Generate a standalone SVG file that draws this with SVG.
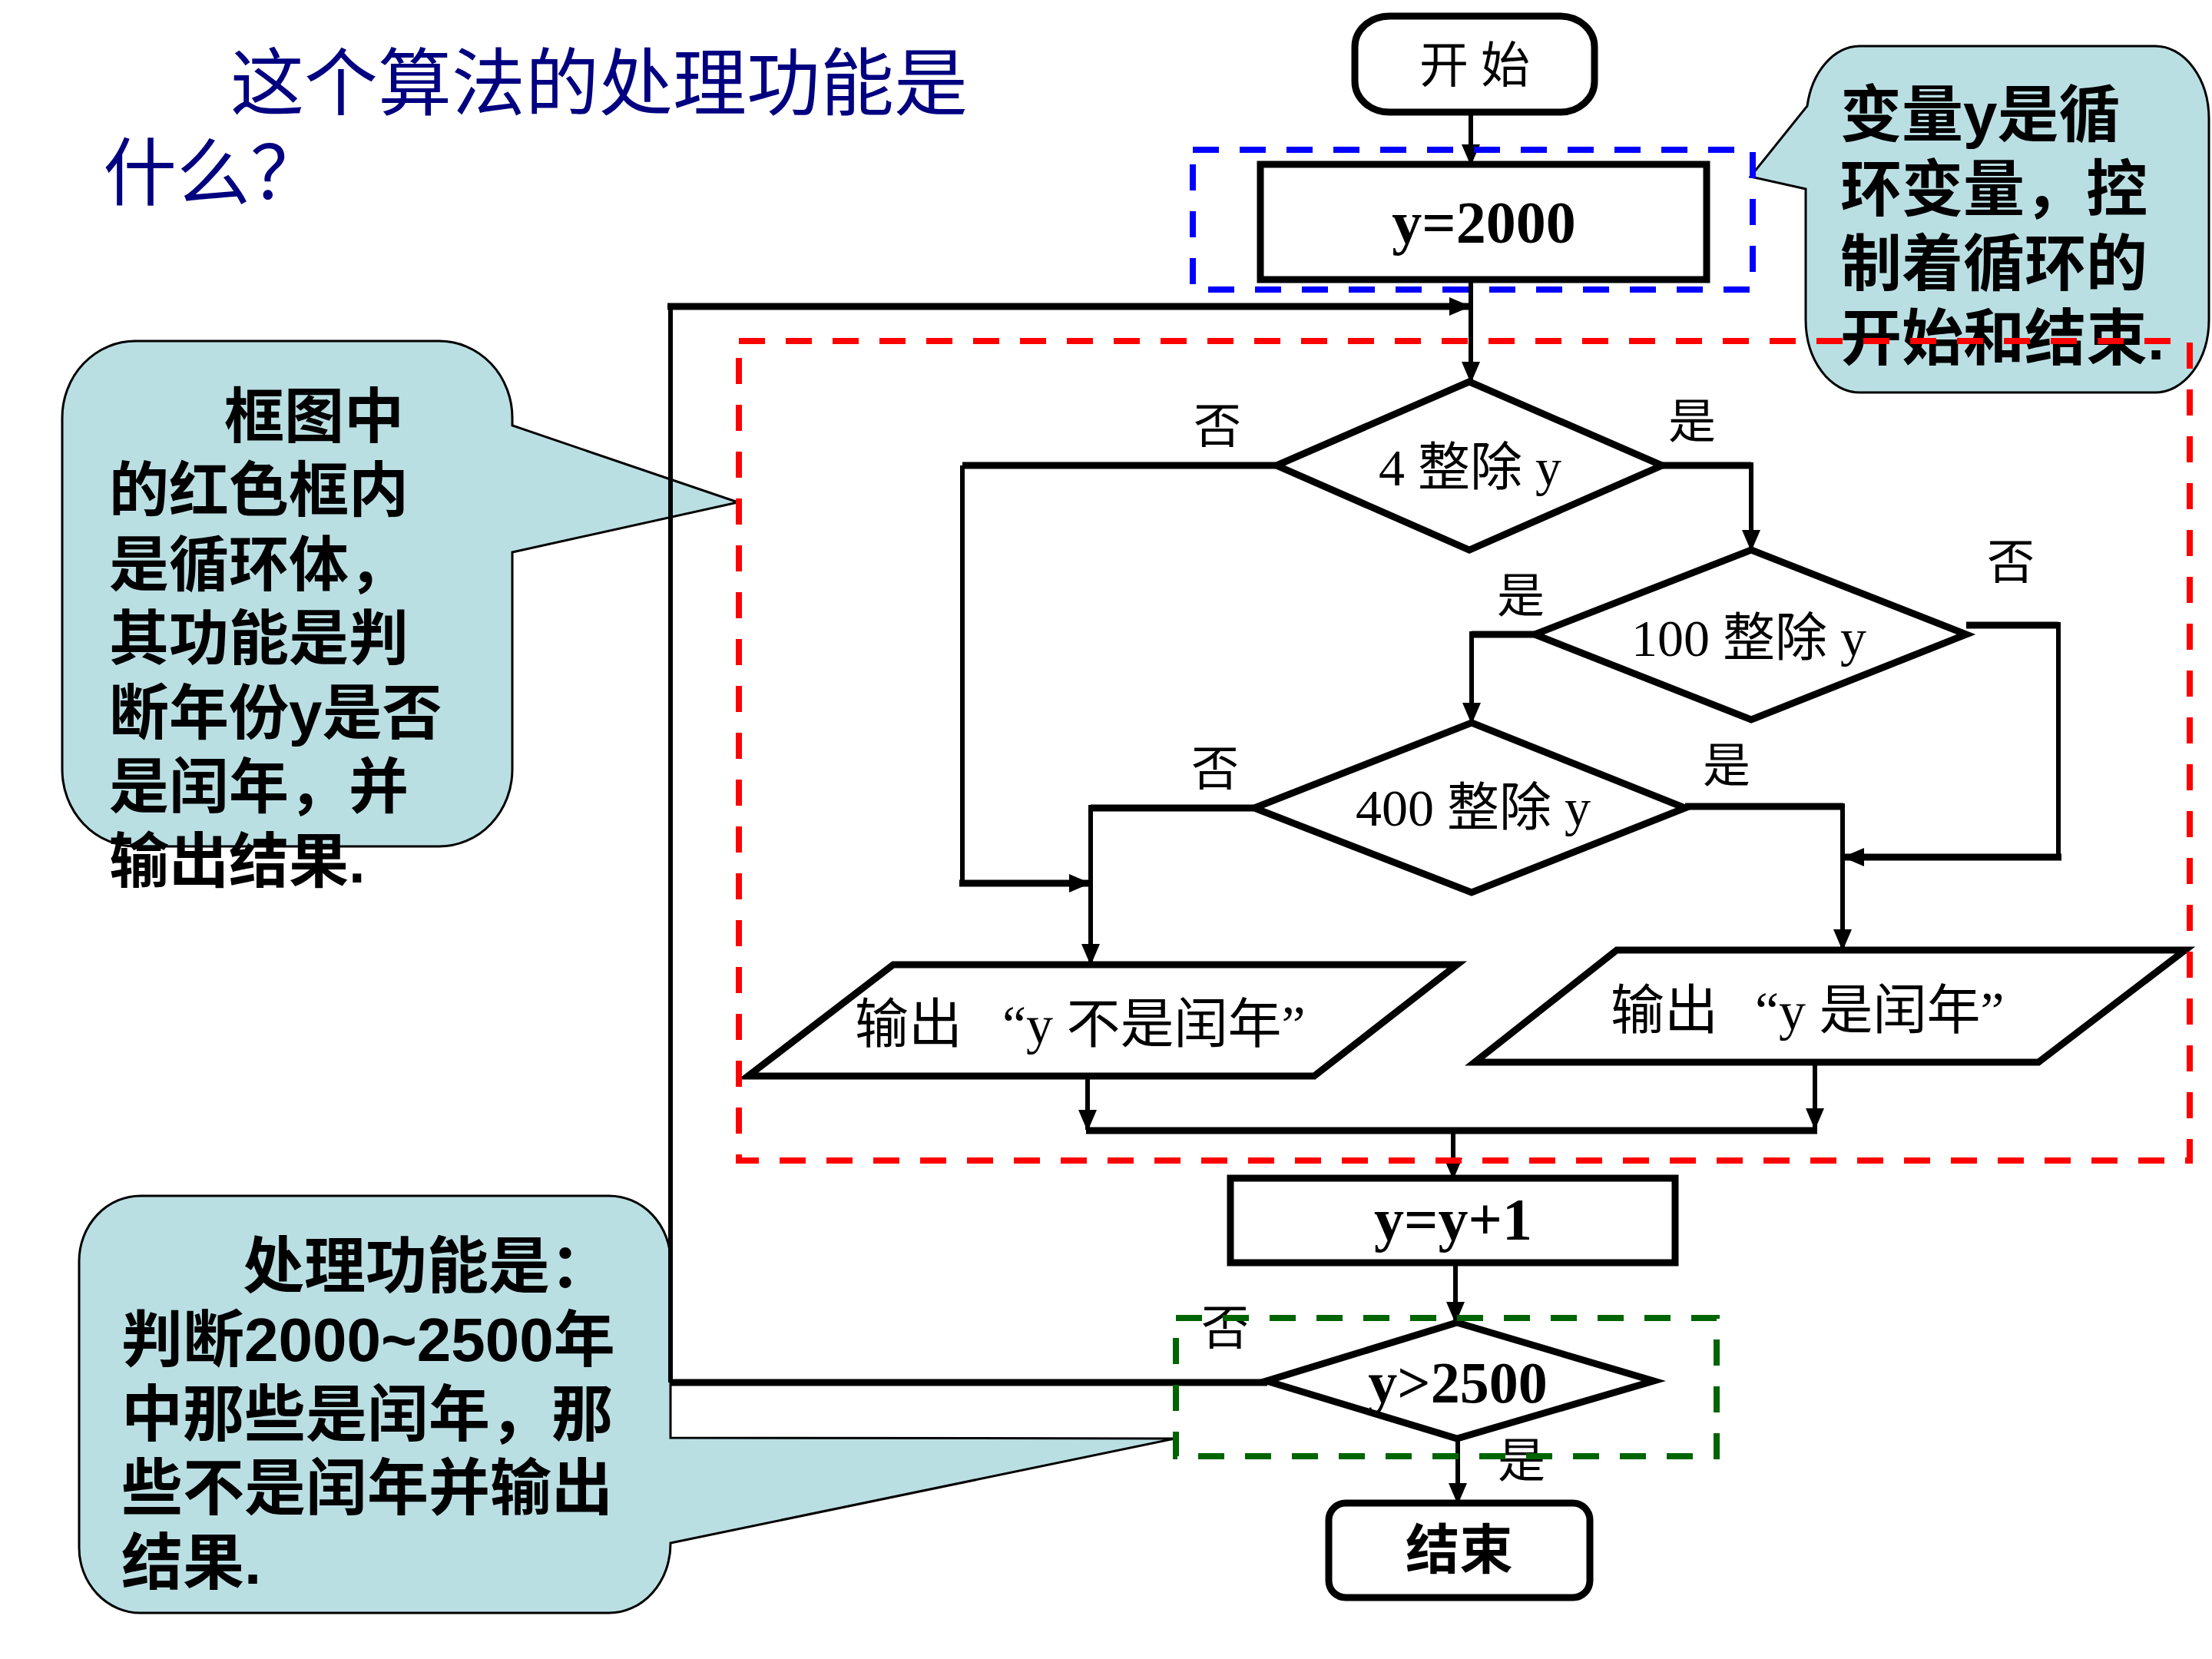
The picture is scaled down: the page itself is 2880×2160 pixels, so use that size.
<svg xmlns="http://www.w3.org/2000/svg" width="2880" height="2160" viewBox="0 0 2880 2160">
<defs>
<marker id="ah" markerUnits="userSpaceOnUse" markerWidth="28" markerHeight="24" refX="26" refY="12" orient="auto">
<path d="M0,0 L28,12 L0,24 Z" fill="#000"/>
</marker>
<style>
.bg{fill:#fff}
.callout{fill:#badfe3;stroke:#000;stroke-width:3}
.ctext{font-family:"Liberation Sans","Noto Sans CJK SC",sans-serif;font-weight:bold;fill:#000}
.title{font-family:"Liberation Serif","Noto Sans CJK SC",serif;fill:#000080;font-size:96px}
.shape{fill:#fff;stroke:#000;stroke-width:9;stroke-linejoin:miter}
.lbl{font-family:"Liberation Serif","Noto Sans CJK SC",serif;fill:#000}
.math{font-family:"Liberation Serif","Noto Sans CJK SC",serif;font-weight:bold;fill:#000}
.con{fill:none;stroke:#000;stroke-width:6}
.conT{fill:none;stroke:#000;stroke-width:9}
.arr{marker-end:url(#ah)}
.dash{fill:none;stroke-width:8;stroke-dasharray:34 27}
</style>
</defs>
<rect class="bg" x="0" y="0" width="2880" height="2160"/>

<g id="title">
<text class="title" x="300" y="142">这个算法的处理功能是</text>
<text class="title" x="134" y="259">什么？</text>
</g>

<g id="callout-loopvar">
<path class="callout" d="M2421,60 H2806 A70,95 0 0 1 2876,155 V416 A70,95 0 0 1 2806,511 H2421 A70,95 0 0 1 2351,416 V246 L2279,230 L2353,138 A70,95 0 0 1 2421,60 Z"/>
<text class="ctext" font-size="80" x="2396" y="177">变量y是循</text>
<text class="ctext" font-size="80" x="2396" y="274">环变量，控</text>
<text class="ctext" font-size="80" x="2396" y="371">制着循环的</text>
<text class="ctext" font-size="80" x="2396" y="468">开始和结束.</text>
</g>

<g id="callout-body">
<path class="callout" d="M176,444 H572 A95,100 0 0 1 667,544 V554 L961,654 L667,719 V1002 A95,100 0 0 1 572,1102 H176 A95,100 0 0 1 81,1002 V544 A95,100 0 0 1 176,444 Z"/>
<text class="ctext" font-size="78" x="292" y="570">框图中</text>
<text class="ctext" font-size="78" x="142" y="666">的红色框内</text>
<text class="ctext" font-size="78" x="142" y="763">是循环体，</text>
<text class="ctext" font-size="78" x="142" y="859">其功能是判</text>
<text class="ctext" font-size="78" x="142" y="956">断年份y是否</text>
<text class="ctext" font-size="78" x="142" y="1052">是闰年，并</text>
<text class="ctext" font-size="78" x="142" y="1149">输出结果.</text>
</g>

<g id="callout-function">
<path class="callout" d="M183,1557 H793 A80,85 0 0 1 873,1642 V1872 L1530,1873 L873,2009 V2010 A80,90 0 0 1 793,2100 H183 A80,85 0 0 1 103,2015 V1642 A80,85 0 0 1 183,1557 Z"/>
<text class="ctext" font-size="80" x="316" y="1676">处理功能是：</text>
<text class="ctext" font-size="80" x="158" y="1772">判断2000~2500年</text>
<text class="ctext" font-size="80" x="158" y="1869">中那些是闰年，那</text>
<text class="ctext" font-size="80" x="158" y="1965">些不是闰年并输出</text>
<text class="ctext" font-size="80" x="158" y="2062">结果.</text>
</g>

<g id="connectors">
<path class="con arr" d="M1915,146 V214"/>
<path class="con arr" d="M1915,364 V497"/>
<path class="conT" d="M1650,1800 H873"/>
<path class="con" d="M873,1800 V399"/>
<path class="conT arr" d="M869,399 H1913"/>
<path class="conT" d="M1664,606 H1253"/>
<path class="con" d="M1253,606 V1150"/>
<path class="conT arr" d="M1249,1150 H1418"/>
<path class="conT" d="M2163,606 H2280"/>
<path class="con arr" d="M2280,602 V716"/>
<path class="conT" d="M1998,826 H1916"/>
<path class="con arr" d="M1916,822 V941"/>
<path class="conT" d="M2560,814 H2680"/>
<path class="con" d="M2680,810 V1116"/>
<path class="conT arr" d="M2684,1116 H2401"/>
<path class="conT" d="M1632,1052 H1420"/>
<path class="con arr" d="M1420,1048 V1255"/>
<path class="conT" d="M2194,1050 H2400"/>
<path class="con arr" d="M2399,1046 V1236"/>
<path class="con arr" d="M1416,1402 V1471"/>
<path class="con arr" d="M2363,1384 V1469"/>
<path class="conT" d="M1414,1472 H2366"/>
<path class="con arr" d="M1892,1472 V1534"/>
<path class="con arr" d="M1895,1644 V1721"/>
<path class="con arr" d="M1898,1873 V1957"/>
</g>

<g id="start">
<rect class="shape" x="1764" y="21" width="312" height="125" rx="45" ry="40"/>
<text class="lbl" font-size="64" x="1920" y="107" text-anchor="middle">开 始</text>
</g>

<g id="init">
<rect class="shape" x="1641" y="214" width="581" height="150"/>
<text class="math" font-size="78" x="1932" y="316" text-anchor="middle">y=2000</text>
</g>

<g id="d-div4">
<polygon class="shape" points="1913,497 2164,606 1913,716 1662,606"/>
<text class="lbl" font-size="68" x="1914" y="632" text-anchor="middle">4 整除 y</text>
<text class="lbl" font-size="62" x="1585" y="577" text-anchor="middle">否</text>
<text class="lbl" font-size="62" x="2203" y="571" text-anchor="middle">是</text>
</g>

<g id="d-div100">
<polygon class="shape" points="2280,716 2560,826 2280,937 1998,826"/>
<text class="lbl" font-size="68" x="2277" y="854" text-anchor="middle">100 整除 y</text>
<text class="lbl" font-size="62" x="1980" y="798" text-anchor="middle">是</text>
<text class="lbl" font-size="62" x="2618" y="754" text-anchor="middle">否</text>
</g>

<g id="d-div400">
<polygon class="shape" points="1916,941 2194,1052 1916,1162 1633,1052"/>
<text class="lbl" font-size="68" x="1918" y="1075" text-anchor="middle">400 整除 y</text>
<text class="lbl" font-size="62" x="1582" y="1023" text-anchor="middle">否</text>
<text class="lbl" font-size="62" x="2248" y="1019" text-anchor="middle">是</text>
</g>

<g id="out-not-leap">
<polygon class="shape" points="1163,1256 1897,1256 1711,1401 974,1401"/>
<text class="lbl" font-size="70" x="1113" y="1358">输出<tspan x="1305">“y 不是闰年”</tspan></text>
</g>

<g id="out-leap">
<polygon class="shape" points="2105,1237 2845,1237 2654,1383 1920,1383"/>
<text class="lbl" font-size="70" x="2097" y="1340">输出<tspan x="2285">“y 是闰年”</tspan></text>
</g>

<g id="incr">
<rect class="shape" x="1602" y="1534" width="579" height="110"/>
<text class="math" font-size="78" x="1892" y="1614" text-anchor="middle">y=y+1</text>
</g>

<g id="d-end">
<polygon class="shape" points="1897,1722 2153,1798 1897,1873 1649,1798"/>
<text class="math" font-size="76" x="1898" y="1826" text-anchor="middle">y&gt;2500</text>
<text class="lbl" font-size="62" x="1595" y="1751" text-anchor="middle">否</text>
<text class="lbl" font-size="62" x="1981" y="1924" text-anchor="middle">是</text>
</g>

<g id="end">
<rect class="shape" x="1730" y="1957" width="340" height="123" rx="22"/>
<text class="lbl" font-size="70" font-weight="bold" x="1900" y="2043" text-anchor="middle">结束</text>
</g>

<g id="highlights">
<rect class="dash" stroke="#0000ff" x="1553" y="195" width="729" height="182"/>
<rect class="dash" stroke="#ff0000" x="962" y="444" width="1889" height="1067"/>
<rect class="dash" stroke="#006400" x="1531" y="1716" width="704" height="180"/>
</g>
</svg>
